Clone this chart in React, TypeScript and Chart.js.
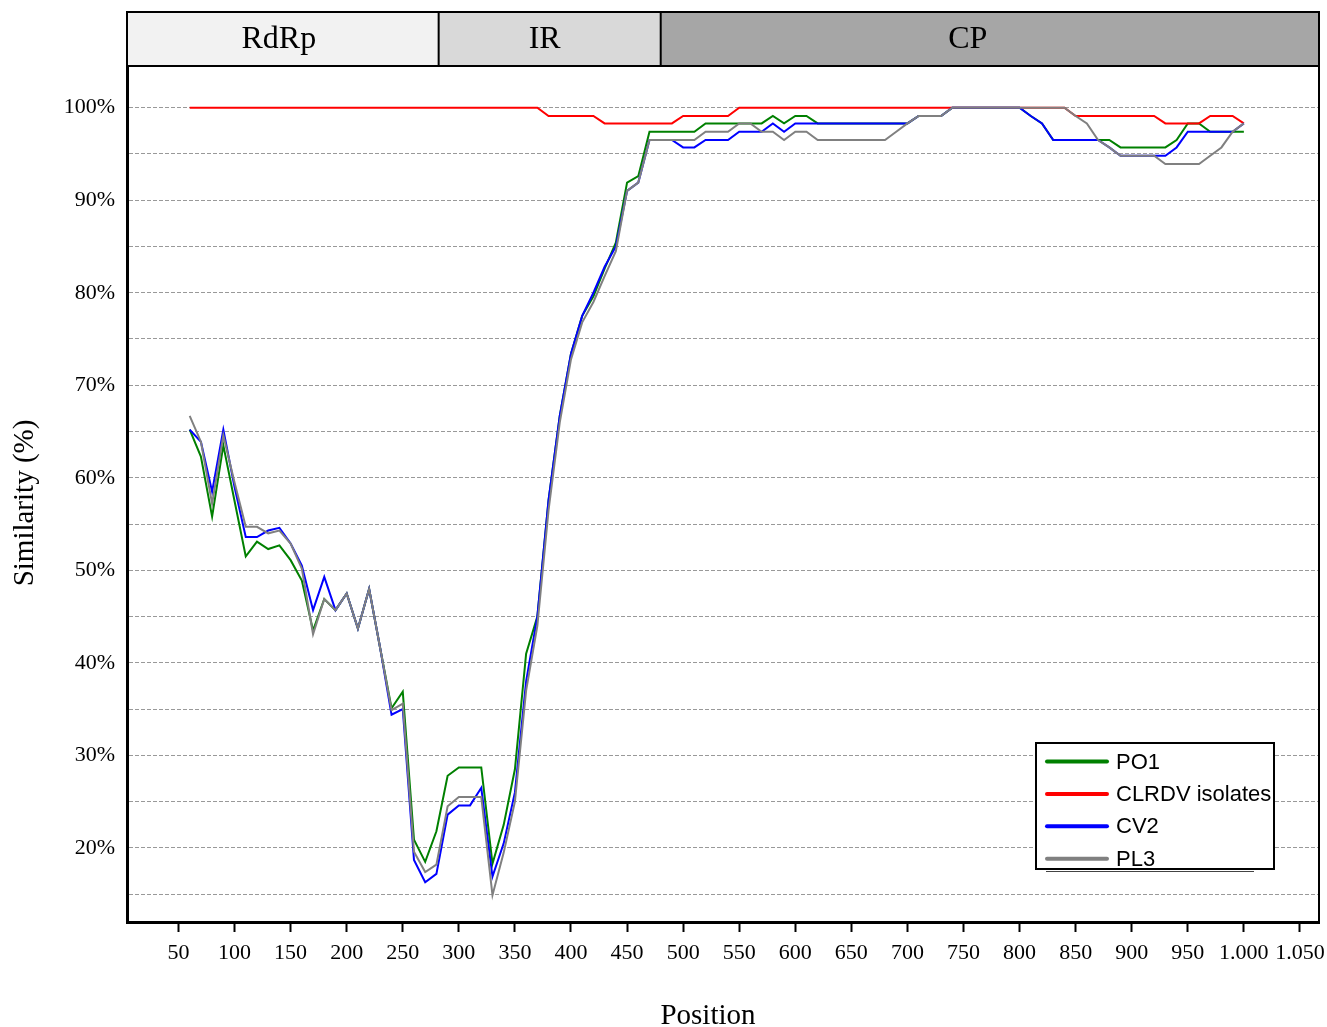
import React, { useEffect, useRef } from 'react';
import { Chart, registerables } from 'chart.js';

Chart.register(...registerables);

const SERIF = '"Liberation Serif", "Times New Roman", serif';
const SANS = '"Liberation Sans", Arial, sans-serif';

const positions = [
  60, 70, 80, 90, 100, 110, 120, 130, 140, 150,
  160, 170, 180, 190, 200, 210, 220, 230, 240, 250,
  260, 270, 280, 290, 300, 310, 320, 330, 340, 350,
  360, 370, 380, 390, 400, 410, 420, 430, 440, 450,
  460, 470, 480, 490, 500, 510, 520, 530, 540, 550,
  560, 570, 580, 590, 600, 610, 620, 630, 640, 650,
  660, 670, 680, 690, 700, 710, 720, 730, 740, 750,
  760, 770, 780, 790, 800, 810, 820, 830, 840, 850,
  860, 870, 880, 890, 900, 910, 920, 930, 940, 950,
  960, 970, 980, 990, 1000,
];

const po1 = [
  65.2, 62.3, 55.8, 63.5, 57.5, 51.5, 53.1, 52.3, 52.7, 51.1,
  48.9, 43.5, 46.9, 45.7, 47.5, 43.7, 48.0, 41.5, 35.1, 36.9,
  20.9, 18.5, 21.8, 27.8, 28.7, 28.7, 28.7, 18.3, 22.5, 28.5,
  41.0, 45.0, 57.6, 66.7, 73.4, 77.5, 79.6, 82.6, 85.4, 91.9,
  92.6, 97.4, 97.4, 97.4, 97.4, 97.4, 98.3, 98.3, 98.3, 98.3,
  98.3, 98.3, 99.1, 98.3, 99.1, 99.1, 98.3, 98.3, 98.3, 98.3,
  98.3, 98.3, 98.3, 98.3, 98.3, 99.1, 99.1, 99.1, 100, 100,
  100, 100, 100, 100, 100, 99.1, 98.3, 96.5, 96.5, 96.5,
  96.5, 96.5, 96.5, 95.7, 95.7, 95.7, 95.7, 95.7, 96.5, 98.3,
  98.3, 97.4, 97.4, 97.4, 97.4,
];

const clrdv = [
  100, 100, 100, 100, 100, 100, 100, 100, 100, 100,
  100, 100, 100, 100, 100, 100, 100, 100, 100, 100,
  100, 100, 100, 100, 100, 100, 100, 100, 100, 100,
  100, 100, 99.1, 99.1, 99.1, 99.1, 99.1, 98.3, 98.3, 98.3,
  98.3, 98.3, 98.3, 98.3, 99.1, 99.1, 99.1, 99.1, 99.1, 100,
  100, 100, 100, 100, 100, 100, 100, 100, 100, 100,
  100, 100, 100, 100, 100, 100, 100, 100, 100, 100,
  100, 100, 100, 100, 100, 100, 100, 100, 100, 99.1,
  99.1, 99.1, 99.1, 99.1, 99.1, 99.1, 99.1, 98.3, 98.3, 98.3,
  98.3, 99.1, 99.1, 99.1, 98.3,
];

const cv2 = [
  65.2, 63.9, 58.5, 65.2, 59.0, 53.6, 53.6, 54.3, 54.6, 52.9,
  50.5, 45.7, 49.3, 45.7, 47.5, 43.7, 48.0, 41.5, 34.4, 35.0,
  18.7, 16.3, 17.2, 23.6, 24.6, 24.6, 26.5, 16.9, 20.5, 26.0,
  38.0, 45.0, 57.6, 66.7, 73.4, 77.5, 80.0, 82.8, 85.0, 91.0,
  91.9, 96.5, 96.5, 96.5, 95.7, 95.7, 96.5, 96.5, 96.5, 97.4,
  97.4, 97.4, 98.3, 97.4, 98.3, 98.3, 98.3, 98.3, 98.3, 98.3,
  98.3, 98.3, 98.3, 98.3, 98.3, 99.1, 99.1, 99.1, 100, 100,
  100, 100, 100, 100, 100, 99.1, 98.3, 96.5, 96.5, 96.5,
  96.5, 96.5, 95.7, 94.8, 94.8, 94.8, 94.8, 94.8, 95.7, 97.4,
  97.4, 97.4, 97.4, 97.4, 98.3,
];

const pl3 = [
  66.7, 63.9, 57.2, 64.6, 59.5, 54.7, 54.7, 54.0, 54.3, 52.9,
  50.2, 43.1, 46.9, 45.7, 47.5, 43.7, 48.0, 41.5, 34.9, 35.6,
  19.6, 17.4, 18.2, 24.5, 25.5, 25.5, 25.5, 14.9, 19.5, 25.0,
  37.0, 44.0, 56.5, 66.0, 72.8, 76.8, 79.0, 81.8, 84.5, 91.0,
  91.9, 96.5, 96.5, 96.5, 96.5, 96.5, 97.4, 97.4, 97.4, 98.3,
  98.3, 97.4, 97.4, 96.5, 97.4, 97.4, 96.5, 96.5, 96.5, 96.5,
  96.5, 96.5, 96.5, 97.4, 98.3, 99.1, 99.1, 99.1, 100, 100,
  100, 100, 100, 100, 100, 100, 100, 100, 100, 99.1,
  98.3, 96.5, 95.7, 94.8, 94.8, 94.8, 94.8, 93.9, 93.9, 93.9,
  93.9, 94.8, 95.7, 97.4, 98.3,
];

const seriesLabels = ['PO1', 'CLRDV isolates', 'CV2', 'PL3'];
const seriesColors = ['#008000', '#ff0000', '#0000ff', '#808080'];
const seriesValues = [po1, clrdv, cv2, pl3];

const xTickValues = [
  50, 100, 150, 200, 250, 300, 350, 400, 450, 500,
  550, 600, 650, 700, 750, 800, 850, 900, 950, 1000, 1050,
];
const yGridValues = [15, 20, 25, 30, 35, 40, 45, 50, 55, 60, 65, 70, 75, 80, 85, 90, 95, 100];
const yLabelValues = [20, 30, 40, 50, 60, 70, 80, 90, 100];

const regionNames = ['RdRp', 'IR', 'CP'];
const regionBreaks = [282, 480];
const regionFills = ['#f2f2f2', '#d9d9d9', '#a6a6a6'];
const regionLabelShift = [-4, -5, -22];

const formatPos = (v: number) =>
  v >= 1000 ? `${Math.floor(v / 1000)}.${String(v % 1000).padStart(3, '0')}` : String(v);

const decorPlugin = {
  id: 'decor',
  afterDraw(chart: any) {
    const { ctx, chartArea } = chart;
    const { left, right, top, bottom } = chartArea;
    const xs = chart.scales.x;
    ctx.save();

    // right frame line
    ctx.strokeStyle = '#000';
    ctx.lineWidth = 2;
    ctx.beginPath();
    ctx.moveTo(right, top);
    ctx.lineTo(right, bottom + 1.5);
    ctx.stroke();

    // genome region band
    const bandTop = 12;
    const edges = [left, ...regionBreaks.map((v) => xs.getPixelForValue(v)), right];
    regionNames.forEach((_, i) => {
      ctx.fillStyle = regionFills[i];
      ctx.fillRect(edges[i], bandTop, edges[i + 1] - edges[i], top - bandTop);
    });
    ctx.strokeStyle = '#000';
    ctx.lineWidth = 2;
    ctx.strokeRect(left, bandTop, right - left, top - bandTop);
    edges.slice(1, -1).forEach((e) => {
      ctx.beginPath();
      ctx.moveTo(e, bandTop);
      ctx.lineTo(e, top);
      ctx.stroke();
    });
    ctx.fillStyle = '#000';
    ctx.font = `32px ${SERIF}`;
    ctx.textAlign = 'center';
    ctx.textBaseline = 'middle';
    regionNames.forEach((name, i) => {
      ctx.fillText(name, (edges[i] + edges[i + 1]) / 2 + regionLabelShift[i], (bandTop + top) / 2 + 1);
    });

    // legend
    const lgRight = right - 45;
    const lgBottom = bottom - 53;
    const lgLeft = lgRight - 238;
    const lgTop = lgBottom - 126;
    ctx.fillStyle = '#fff';
    ctx.fillRect(lgLeft, lgTop, lgRight - lgLeft, lgBottom - lgTop);
    ctx.strokeStyle = '#000';
    ctx.lineWidth = 2;
    ctx.strokeRect(lgLeft, lgTop, lgRight - lgLeft, lgBottom - lgTop);
    ctx.lineWidth = 1;
    ctx.strokeStyle = '#444';
    ctx.beginPath();
    ctx.moveTo(lgLeft + 10, lgBottom + 2.5);
    ctx.lineTo(lgLeft + 218, lgBottom + 2.5);
    ctx.stroke();
    ctx.font = `22px ${SANS}`;
    ctx.textAlign = 'left';
    ctx.textBaseline = 'middle';
    seriesLabels.forEach((label, i) => {
      const y = lgTop + 18.5 + i * 32.4;
      ctx.strokeStyle = seriesColors[i];
      ctx.lineWidth = 4;
      ctx.lineCap = 'round';
      ctx.beginPath();
      ctx.moveTo(lgLeft + 11, y);
      ctx.lineTo(lgLeft + 71, y);
      ctx.stroke();
      ctx.fillStyle = '#000';
      ctx.fillText(label, lgLeft + 80, y + 1);
    });

    // axis titles
    ctx.fillStyle = '#000';
    ctx.font = `29px ${SERIF}`;
    ctx.textAlign = 'center';
    ctx.textBaseline = 'middle';
    ctx.fillText('Position', 708, 1016);
    ctx.save();
    ctx.translate(25, 503);
    ctx.rotate(-Math.PI / 2);
    ctx.fillText('Similarity (%)', 0, 0);
    ctx.restore();

    ctx.restore();
  },
};

export default function App() {
  const canvasRef = useRef<HTMLCanvasElement | null>(null);

  useEffect(() => {
    document.body.style.margin = '0';
    const canvas = canvasRef.current;
    if (!canvas) return;
    const chart = new Chart(canvas, {
      type: 'line',
      data: {
        datasets: seriesValues.map((vals, i) => ({
          label: seriesLabels[i],
          data: positions.map((p, j) => ({ x: p, y: vals[j] })),
          borderColor: seriesColors[i],
          backgroundColor: seriesColors[i],
          borderWidth: 2,
          pointRadius: 0,
          pointHoverRadius: 0,
          tension: 0,
          fill: false,
          order: seriesValues.length - i,
        })),
      },
      options: {
        animation: false,
        responsive: false,
        devicePixelRatio: 1,
        events: [],
        layout: { padding: { top: 66, right: 8, bottom: 0, left: 0 } },
        plugins: {
          legend: { display: false },
          tooltip: { enabled: false },
          title: { display: false },
        },
        scales: {
          x: {
            type: 'linear',
            min: 4.1,
            max: 1067,
            afterFit: (s: any) => {
              s.height = 105;
              s.paddingLeft = 0;
              s.paddingRight = 0;
            },
            afterBuildTicks: (s: any) => {
              s.ticks = xTickValues.map((v) => ({ value: v }));
            },
            grid: {
              display: true,
              drawOnChartArea: false,
              drawTicks: true,
              tickLength: 10,
              tickColor: '#000',
              tickWidth: 2,
              color: '#000',
            },
            border: { display: true, color: '#000', width: 3 },
            ticks: {
              autoSkip: false,
              maxRotation: 0,
              minRotation: 0,
              padding: 8,
              color: '#000',
              font: { family: SERIF, size: 22 },
              callback: (v: any) => formatPos(Number(v)),
            },
          },
          y: {
            type: 'linear',
            min: 12,
            max: 104.5,
            afterFit: (s: any) => {
              s.width = 127;
              s.paddingTop = 0;
              s.paddingBottom = 0;
            },
            afterBuildTicks: (s: any) => {
              s.ticks = yGridValues.map((v) => ({ value: v }));
            },
            grid: { color: '#999999', lineWidth: 1, drawTicks: false },
            border: { display: true, color: '#000', width: 3, dash: [4, 2] },
            ticks: {
              padding: 12,
              color: '#000',
              font: { family: SERIF, size: 22 },
              callback: (v: any) => (yLabelValues.includes(Number(v)) ? `${v}%` : ''),
            },
          },
        },
      },
      plugins: [decorPlugin],
    });
    return () => chart.destroy();
  }, []);

  return (
    <div style={{ width: 1327, height: 1027 }}>
      <canvas ref={canvasRef} width={1327} height={1027} style={{ display: 'block' }} />
    </div>
  );
}
